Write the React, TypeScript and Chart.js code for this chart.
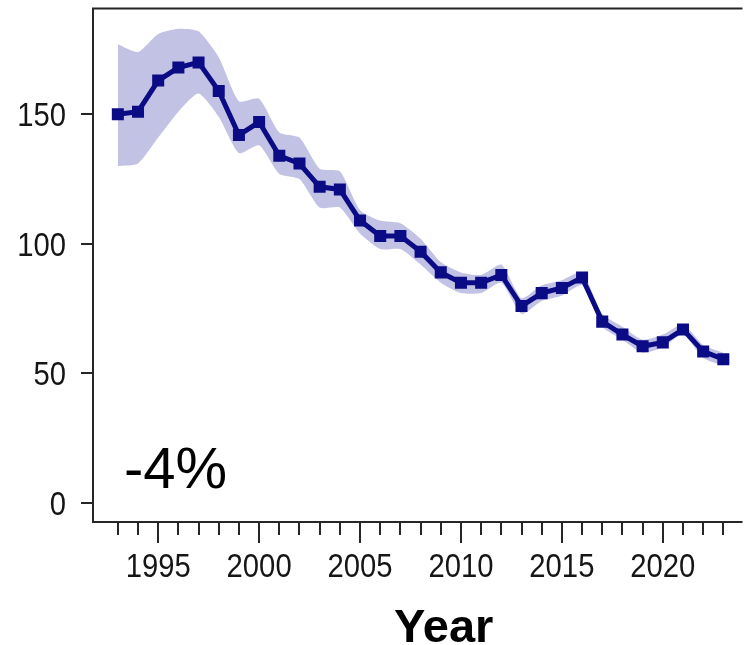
import React, { useEffect, useRef } from "react";
import { Chart, registerables } from "chart.js";

Chart.register(...registerables);

const years = [1993, 1994, 1995, 1996, 1997, 1998, 1999, 2000, 2001, 2002, 2003, 2004, 2005, 2006, 2007, 2008, 2009, 2010, 2011, 2012, 2013, 2014, 2015, 2016, 2017, 2018, 2019, 2020, 2021, 2022, 2023];
const index = [150, 151, 163, 168, 170, 159, 142, 147, 134, 131, 122, 121, 109, 103, 103, 97, 89, 85, 85, 88, 76, 81, 83, 87, 70, 65, 60.5, 62, 67, 58.5, 55.5];
const lower = [130, 131, 141, 151, 158, 149, 135, 138, 127, 125, 114, 114, 104, 98, 98, 92, 85, 81, 81, 85, 73, 78, 80, 84, 68, 63, 58, 60, 65, 56, 53];
const upper = [177, 174, 181, 183, 182, 172, 155, 156, 143, 141, 129, 128, 113, 109, 108, 102, 93, 89, 88, 92, 79, 84, 86, 89, 73, 68, 63, 65, 69, 61, 58];
const xTicks = [1995, 2000, 2005, 2010, 2015, 2020];
const yTicks = [0, 50, 100, 150];
const trendLabel = "-4%";
const xTitle = "Year";

const NAVY = "#0b0b85";
const BAND = "#c2c2e4";
const AXIS = "#262626";
const SANS = "'Liberation Sans', Arial, sans-serif";
const LABEL_SIZE = 34;
const CONDENSE = 0.86;

function drawCondensed(ctx: any, text: string, x: number, y: number, align: "center" | "right") {
  ctx.save();
  ctx.translate(x, y);
  ctx.scale(CONDENSE, 1);
  ctx.textAlign = align;
  ctx.textBaseline = "alphabetic";
  ctx.fillText(text, 0, 0);
  ctx.restore();
}

const framePlugin = {
  id: "frame",
  afterDraw(chart: any) {
    const { ctx, chartArea } = chart;
    const xs = chart.scales.x;
    const ys = chart.scales.y;
    const { left, right, top, bottom } = chartArea;
    ctx.save();
    ctx.strokeStyle = AXIS;
    ctx.lineWidth = 2;
    ctx.beginPath();
    ctx.moveTo(right + 2, top);
    ctx.lineTo(left, top);
    ctx.lineTo(left, bottom);
    ctx.lineTo(right + 2, bottom);
    ctx.stroke();
    ctx.beginPath();
    for (const yr of years) {
      const px = Math.round(xs.getPixelForValue(yr));
      const len = yr % 5 === 0 ? 21 : 13;
      ctx.moveTo(px, bottom);
      ctx.lineTo(px, bottom + len);
    }
    for (const t of ys.ticks) {
      const py = Math.round(ys.getPixelForValue(t.value));
      ctx.moveTo(left, py);
      ctx.lineTo(left - 12, py);
    }
    ctx.stroke();
    ctx.fillStyle = "#151515";
    ctx.font = `${LABEL_SIZE}px ${SANS}`;
    for (const t of xs.ticks) {
      drawCondensed(ctx, String(t.value), xs.getPixelForValue(t.value), bottom + 55, "center");
    }
    for (const t of ys.ticks) {
      drawCondensed(ctx, String(t.value), left - 27, ys.getPixelForValue(t.value) + 12, "right");
    }
    ctx.fillStyle = "#000";
    ctx.font = `58px ${SANS}`;
    ctx.textAlign = "left";
    ctx.textBaseline = "alphabetic";
    ctx.fillText(trendLabel, left + 31, ys.getPixelForValue(0) - 15);
    ctx.font = `bold 47px ${SANS}`;
    ctx.textAlign = "center";
    ctx.fillText(xTitle, (left + right) / 2 + 27, 642);
    ctx.restore();
  },
};

export default function App() {
  const ref = useRef<HTMLCanvasElement | null>(null);
  useEffect(() => {
    if (!ref.current) return;
    const chart = new Chart(ref.current, {
      type: "line",
      data: {
        datasets: [
          {
            label: "upper",
            data: years.map((x, i) => ({ x, y: upper[i] })),
            borderWidth: 0,
            borderColor: "rgba(0,0,0,0)",
            backgroundColor: BAND,
            pointRadius: 0,
            fill: "+1",
            tension: 0.2,
            order: 3,
          },
          {
            label: "lower",
            data: years.map((x, i) => ({ x, y: lower[i] })),
            borderWidth: 0,
            borderColor: "rgba(0,0,0,0)",
            backgroundColor: BAND,
            pointRadius: 0,
            fill: false,
            tension: 0.2,
            order: 2,
          },
          {
            label: "index",
            data: years.map((x, i) => ({ x, y: index[i] })),
            borderColor: NAVY,
            backgroundColor: NAVY,
            borderWidth: 5,
            pointStyle: "rect",
            pointRadius: 8.5,
            pointBorderWidth: 0,
            fill: false,
            tension: 0,
            order: 1,
          },
        ],
      },
      options: {
        animation: false,
        responsive: false,
        devicePixelRatio: 1,
        layout: { padding: { top: 7, left: 0, right: 0, bottom: 0 } },
        plugins: { legend: { display: false }, tooltip: { enabled: false } },
        scales: {
          x: {
            type: "linear",
            min: 1991.77,
            max: 2023.85,
            grid: { display: false, drawTicks: false },
            border: { display: false },
            ticks: { display: false },
            afterBuildTicks: (s: any) => {
              s.ticks = xTicks.map((value) => ({ value }));
            },
            afterFit: (s: any) => {
              s.height = 123;
            },
          },
          y: {
            type: "linear",
            min: -7.3,
            max: 190.8,
            grid: { display: false, drawTicks: false },
            border: { display: false },
            ticks: { display: false },
            afterBuildTicks: (s: any) => {
              s.ticks = yTicks.map((value) => ({ value }));
            },
            afterFit: (s: any) => {
              s.width = 93;
            },
          },
        },
      },
      plugins: [framePlugin],
    });
    return () => chart.destroy();
  }, []);
  return (
    <div style={{ position: "fixed", left: 0, top: 0, width: 749, height: 645, background: "#fff" }}>
      <canvas ref={ref} width={749} height={645} style={{ width: 749, height: 645 }} />
    </div>
  );
}
